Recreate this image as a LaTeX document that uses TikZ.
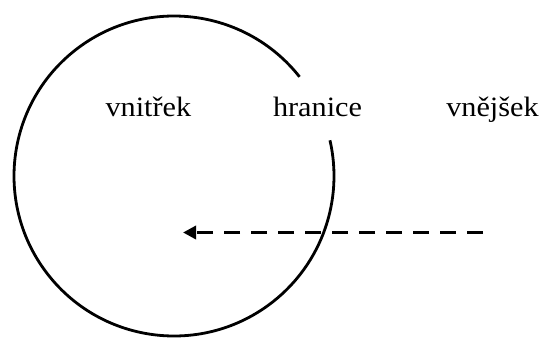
\documentclass[tikz,border=0pt]{standalone}
\usepackage{fontspec}
\setmainfont{Liberation Serif}[FakeStretch=1.08]
\usetikzlibrary{arrows.meta}
\tikzset{
  lbl/.style={anchor=base, inner sep=0pt, font=\fontsize{28bp}{33bp}\selectfont},
  boundary/.style={line width=2.8bp, black},
  flow/.style={line width=3.3bp, black, dash pattern=on 16bp off 11bp,
    -{Triangle[length=13bp,width=13bp]}}
}
\begin{document}
\begin{tikzpicture}[x=1bp,y=1bp]
\useasboundingbox (0,0) rectangle (545,338);
\coordinate (c) at (174,162);
\draw[boundary] (c) ++(38.3:160) arc[start angle=38.3, end angle=372.9, radius=160];
\node[lbl] (inner) at (148.4,221.5) {vnitřek};
\node[lbl] (border) at (317.5,221.5) {hranice};
\node[lbl] (outer) at (492.5,221.5) {vnějšek};
\coordinate (astart) at (483,105.5);
\coordinate (aend) at (183,105.5);
\draw[flow] (astart) -- (aend);
\end{tikzpicture}
\end{document}
